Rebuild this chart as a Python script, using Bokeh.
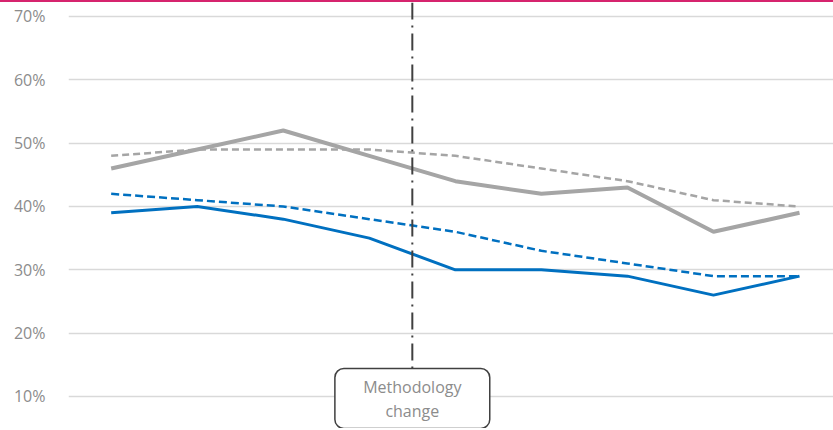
from bokeh.plotting import figure
from bokeh.models import (Range1d, FixedTicker, PrintfTickFormatter, Span,
                          BoxAnnotation, Label, ColumnDataSource)
from bokeh.embed import file_html
from bokeh.resources import INLINE

# Nine reporting periods, shares in percent
periods = [0, 1, 2, 3, 4, 5, 6, 7, 8]
grey_solid = [46, 49, 52, 48, 44, 42, 43, 36, 39]
grey_dashed = [48, 49, 49, 49, 48, 46, 44, 41, 40]
blue_solid = [39, 40, 38, 35, 30, 30, 29, 26, 29]
blue_dashed = [42, 41, 40, 38, 36, 33, 31, 29, 29]
y_ticks = [10, 20, 30, 40, 50, 60, 70]
method_change_at = 3.5
note_lines = ["Methodology", "change"]

GREY = "#A5A5A5"
BLUE = "#0070C0"
TEXT = "#8C8C8C"
FONT = "Open Sans"

src = ColumnDataSource(dict(x=periods, gs=grey_solid, gd=grey_dashed,
                            bs=blue_solid, bd=blue_dashed))

p = figure(width=833, height=428, output_backend="svg", toolbar_location=None,
           x_range=Range1d(-0.496, 8.395), y_range=Range1d(4.63, 72.21),
           min_border_top=0, min_border_bottom=0, min_border_right=0,
           min_border_left=68)
# magenta rule along the top edge of the chart
p.styles = {"border-top": "2px solid #D6246E"}
p.outline_line_color = None
p.background_fill_color = "white"
p.border_fill_color = "white"

p.xaxis.visible = False
p.xgrid.grid_line_color = None
p.ygrid.grid_line_color = "#D9D9D9"
p.ygrid.grid_line_width = 1.5

yax = p.yaxis[0]
yax.ticker = FixedTicker(ticks=y_ticks)
yax.formatter = PrintfTickFormatter(format="%d%%")
yax.axis_line_color = None
yax.major_tick_line_color = None
yax.minor_tick_line_color = None
yax.major_label_standoff = 17
yax.major_label_text_font = FONT
yax.major_label_text_font_size = "16px"
yax.major_label_text_color = TEXT

p.line("x", "gd", source=src, line_color=GREY, line_width=2.5, line_dash="7 4")
p.line("x", "bd", source=src, line_color=BLUE, line_width=2.5, line_dash="8 4")
p.line("x", "gs", source=src, line_color=GREY, line_width=4)
p.line("x", "bs", source=src, line_color=BLUE, line_width=3)

p.add_layout(Span(location=method_change_at, dimension="height",
                  line_color="#404040", line_width=2, line_dash="17 6 2 6"))

p.add_layout(BoxAnnotation(left=method_change_at - 0.9, right=method_change_at + 0.9,
                           bottom=4.95, top=14.42, fill_color="white", fill_alpha=1,
                           line_color="#404040", line_alpha=1, line_width=1.5,
                           border_radius=9))
for txt, yy in zip(note_lines, [11.42, 7.68]):
    p.add_layout(Label(x=method_change_at, y=yy, text=txt, text_align="center",
                       text_baseline="middle", text_font=FONT,
                       text_font_size="16px", text_color=TEXT))

open("out.html", "w").write(file_html(p, INLINE))
